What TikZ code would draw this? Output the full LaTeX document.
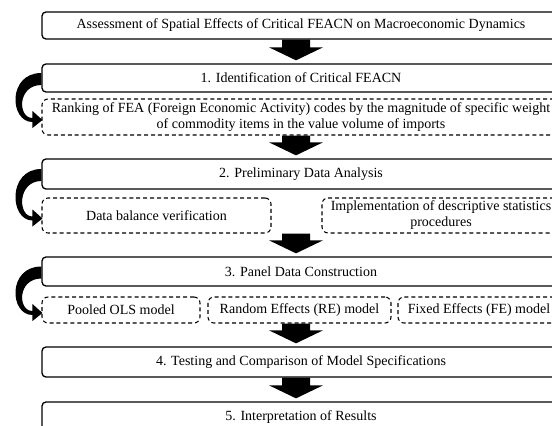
\documentclass[tikz,border=0pt]{standalone}
\usepackage{fontspec}
\setmainfont{Liberation Serif}
\usetikzlibrary{calc}

% thick down arrow between two stages
\newcommand{\blockarrow}[2]{%
  \fill ($(axis |- #1.south)+(-14,0)$) -- ($(axis |- #2.north)+(-14,-16)$)
    -- ($(axis |- #2.north)+(-27,-16)$) -- ($(axis |- #2.north)+(0,-3)$)
    -- ($(axis |- #2.north)+(27,-16)$) -- ($(axis |- #2.north)+(14,-16)$)
    -- ($(axis |- #1.south)+(14,0)$) -- cycle;}

% curved arrow from a stage to its first task
\newcommand{\loopback}[2]{%
  \fill ($(#1.west)+(0,-5)$) .. controls ($(#1.west)+(-34,-5)$) and ($(#2.west)+(-32,5)$) .. ($(#2.west)+(-9,5)$)
    -- ($(#2.west)+(-9,11)$) -- ($(#2.west)+(1,3)$) -- ($(#2.west)+(-9,-6)$) -- ($(#2.west)+(-9,1)$)
    .. controls ($(#2.west)+(-24,1)$) and ($(#1.west)+(-24,7)$) .. ($(#1.west)+(0,7)$) -- cycle;}

\begin{document}
\begin{tikzpicture}
  [x=0.75pt, y=-0.75pt,
  stage/.style={
    draw=black,
    rectangle,
    rounded corners=3pt,
    line width=1pt,
    inner sep=0pt,
    align=center,
    minimum width=388.5pt,
    font=\fontsize{10.5pt}{12pt}\selectfont},
  task/.style={
    draw=black,
    dash pattern=on 3pt off 2.2pt,
    rectangle,
    rounded corners=4.5pt,
    line width=0.8pt,
    inner sep=0pt,
    align=center,
    font=\fontsize{10.5pt}{12pt}\selectfont}]

  \useasboundingbox (0,0) rectangle (552,425);
  \clip (0,0) rectangle (552,425);

  \coordinate (axis) at (296,0);

  \node [stage, minimum height=20.25pt] at (301,25.5) (goal)
    {Assessment of Spatial Effects of Critical FEACN on Macroeconomic Dynamics};

  \node [stage, minimum height=21pt] at (301,78) (ident)
    {1. Identification of Critical FEACN};

  \node [task, minimum width=388.5pt, minimum height=27pt] at (301,117) (ranking)
    {Ranking of FEA (Foreign Economic Activity) codes by the magnitude of specific weight\\
     of commodity items in the value volume of imports};

  \node [stage, minimum height=22.5pt] at (301,174) (prelim)
    {2. Preliminary Data Analysis};

  \node [task, minimum width=171.75pt, minimum height=26.25pt] at (156.5,215.5) (balance)
    {Data balance verification};

  \node [task, minimum width=178.5pt, minimum height=26.25pt] at (441,215.5) (descr)
    {Implementation of descriptive statistics\\ procedures};

  \node [stage, minimum height=21.75pt] at (301,271.5) (panel)
    {3. Panel Data Construction};

  \node [task, minimum width=118.5pt, minimum height=19.5pt] at (121,310) (pooled)
    {Pooled OLS model};

  \node [task, minimum width=137.25pt, minimum height=19.5pt] at (299.5,310) (random)
    {Random Effects (RE) model};

  \node [task, minimum width=121.5pt, minimum height=19.5pt] at (479,310) (fixed)
    {Fixed Effects (FE) model};

  \node [stage, minimum height=22.5pt] at (301,362) (testing)
    {4. Testing and Comparison of Model Specifications};

  \node [stage, minimum height=22.5pt] at (301,417) (interp)
    {5. Interpretation of Results};

  \blockarrow{goal}{ident}
  \blockarrow{ranking}{prelim}
  \blockarrow{balance}{panel}
  \blockarrow{random}{testing}
  \blockarrow{testing}{interp}

  \loopback{ident}{ranking}
  \loopback{prelim}{balance}
  \loopback{panel}{pooled}
\end{tikzpicture}
\end{document}
